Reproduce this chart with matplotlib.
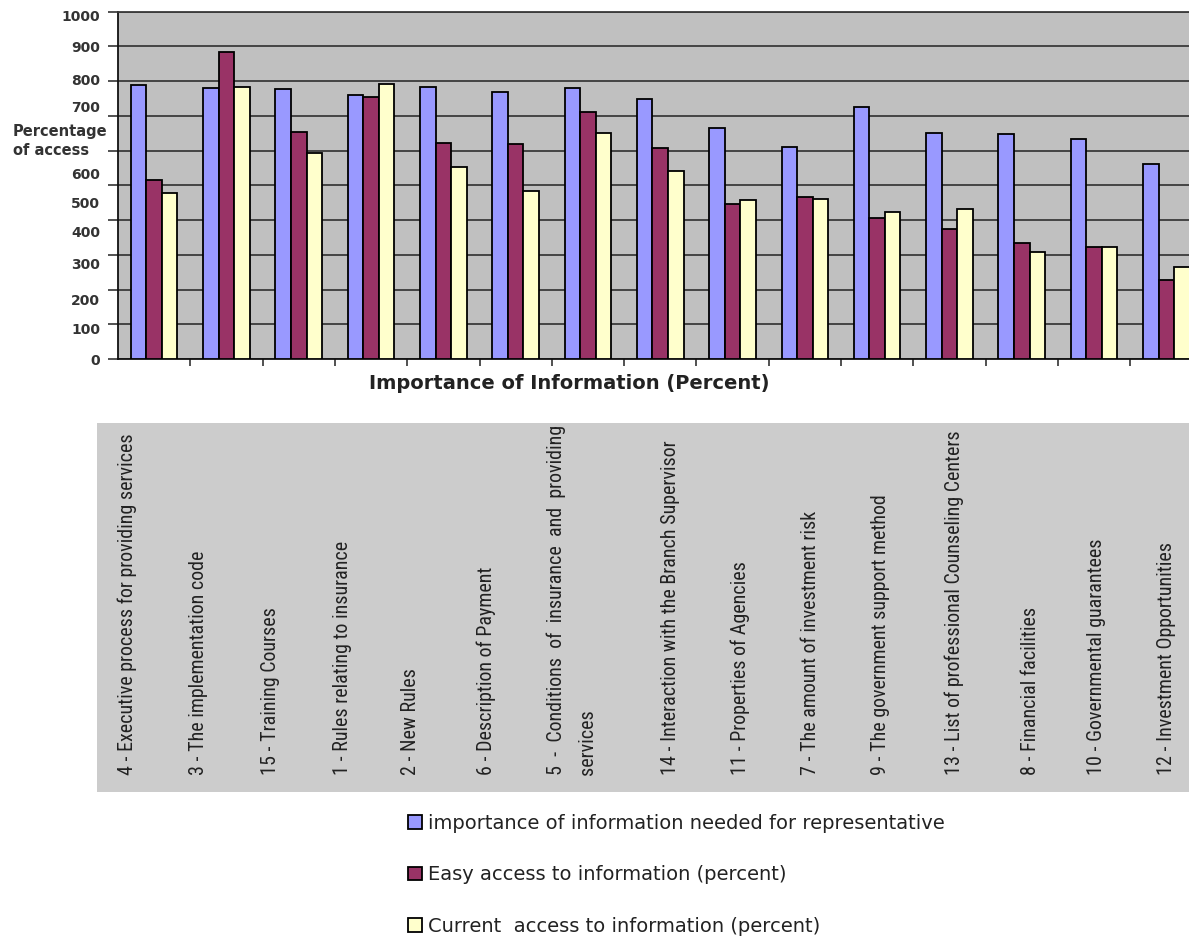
import os
import numpy as np
import matplotlib
matplotlib.use("Agg")
import matplotlib.pyplot as plt
from matplotlib import font_manager as fm
from matplotlib.patches import Patch, Rectangle

# Information items (grouped bars, in this order)
categories = [
    "4 - Executive process for providing services",
    "3 - The implementation code",
    "15 - Training Courses",
    "1 - Rules relating to insurance",
    "2 - New Rules",
    "6 - Description of Payment",
    "5  -  Conditions  of  insurance  and  providing\nservices",
    "14 - Interaction with the Branch Supervisor",
    "11 - Properties of Agencies",
    "7 - The amount of investment risk",
    "9 - The government support method",
    "13 - List of professional Counseling Centers",
    "8 - Financial facilities",
    "10 - Governmental guarantees",
    "12 - Investment Opportunities",
]

importance = [789, 781, 776, 760, 782, 770, 780, 749, 664, 610, 726, 650, 647, 633, 561]
easy_access = [515, 883, 654, 755, 623, 619, 712, 608, 446, 467, 405, 373, 333, 322, 227]
current_access = [478, 782, 594, 792, 554, 485, 650, 542, 458, 461, 422, 431, 307, 323, 266]

series_names = [
    "importance of information needed for representative",
    "Easy access to information (percent)",
    "Current  access to information (percent)",
]
series_colors = ["#9999ff", "#993366", "#ffffcc"]

y_ticks = list(range(0, 1001, 100))
# where each y tick label sits along the axis
y_label_pos = [0, 88, 172, 276, 366, 450, 535, 726, 805, 899, 990]

# horizontal pixel centre of each rotated item label in the lower panel
item_label_x = [127, 198, 270, 343, 411, 486, 572, 671, 740, 810, 881, 954, 1030, 1097, 1167]

W, H = 1189, 938
fig = plt.figure(figsize=(W / 100, H / 100), dpi=100)
fig.patch.set_facecolor("white")


def fx(px):
    return px / W


def fy(py):
    return 1 - py / H


def narrow_font():
    """Return (family, stretch) of a narrow sans face if one is installed."""
    candidates = [("Liberation Sans Narrow", "normal"), ("Roboto Condensed", "normal"),
                  ("Open Sans Condensed", "normal"), ("DejaVu Sans", "condensed"),
                  ("Roboto", "condensed"), ("Open Sans", "condensed"),
                  ("Noto Sans", "condensed")]
    for fam, stretch in candidates:
        try:
            path = fm.findfont(fm.FontProperties(family=fam, stretch=stretch),
                               fallback_to_default=False)
        except ValueError:
            continue
        name = os.path.basename(path).lower()
        if "narrow" in name or "condensed" in name:
            return fam, stretch
    return "Liberation Sans", "normal"


# ---- bar chart ----
ax = fig.add_axes([fx(118), fy(359), (1202.5 - 118) / W, (359 - 11.7) / H])
ax.set_facecolor("#c0c0c0")

x = np.arange(len(categories))
bw = 0.215
for i, (vals, color) in enumerate(zip([importance, easy_access, current_access], series_colors)):
    ax.bar(x + (i - 1) * bw, vals, bw, color=color, edgecolor="black",
           linewidth=1.3, zorder=3)

ax.set_xlim(-0.5, len(categories) - 0.5)
ax.set_ylim(0, 1000)

ax.yaxis.remove_overlapping_locs = False
ax.set_yticks(y_label_pos)
ax.set_yticklabels([str(v) for v in y_ticks], fontsize=10, fontweight="bold",
                   color="#333333", family="DejaVu Sans")
ax.tick_params(axis="y", which="major", length=0, pad=13)
ax.set_yticks(y_ticks, minor=True)
ax.tick_params(axis="y", which="minor", length=7, width=1.1, color="#222222",
               direction="out")
ax.yaxis.grid(True, which="minor", color="#3a3a3a", linewidth=1.3)
ax.yaxis.grid(False, which="major")
ax.set_axisbelow(True)

ax.set_xticks(np.arange(len(categories) - 1) + 0.5)
ax.set_xticklabels([])
ax.tick_params(axis="x", length=5, width=1.1, color="#222222", direction="out")

for side in ("left", "bottom"):
    ax.spines[side].set_color("#111111")
    ax.spines[side].set_linewidth(1.3)
ax.spines["top"].set_color("#3a3a3a")
ax.spines["top"].set_linewidth(1.3)
ax.spines["right"].set_visible(False)

fig.text(fx(13), fy(141), "Percentage\nof access", ha="left", va="center",
         fontsize=10.5, fontweight="bold", color="#333333", linespacing=1.4,
         family="DejaVu Sans")
fig.text(fx(569), fy(383), "Importance of Information (Percent)", ha="center",
         va="center", fontsize=14, fontweight="bold", color="#222222",
         family="DejaVu Sans")

# ---- item labels panel ----
fig.add_artist(Rectangle((fx(97), fy(792)), (W - 97) / W, (792 - 423) / H,
                         transform=fig.transFigure, facecolor="#cccccc",
                         edgecolor="none"))
fam, stretch = narrow_font()
item_texts = []
for xp, label in zip(item_label_x, categories):
    t = fig.text(fx(xp), fy(775), label, rotation=90, ha="center", va="bottom",
                 multialignment="left", fontsize=13, color="#222222",
                 family=fam, fontstretch=stretch, linespacing=2.0)
    item_texts.append(t)

# size the item labels so the first one runs about 340 px up the panel
renderer = fig.canvas.get_renderer()
span = item_texts[0].get_window_extent(renderer).height
size = 13 * 340.0 / span
for t in item_texts:
    t.set_fontsize(size)
item_texts[6].set_linespacing(2.0 * 13 / size)

# ---- legend ----
handles = [Patch(facecolor=c, edgecolor="black", linewidth=1.3) for c in series_colors]
fig.legend(handles, series_names, loc="upper left",
           bbox_to_anchor=(fx(408), fy(814)), frameon=False, fontsize=14,
           handlelength=0.7, handleheight=0.7, handletextpad=0.35,
           labelspacing=1.67, borderpad=0, borderaxespad=0, labelcolor="#222222")

fig.savefig("out.png", dpi=100)
